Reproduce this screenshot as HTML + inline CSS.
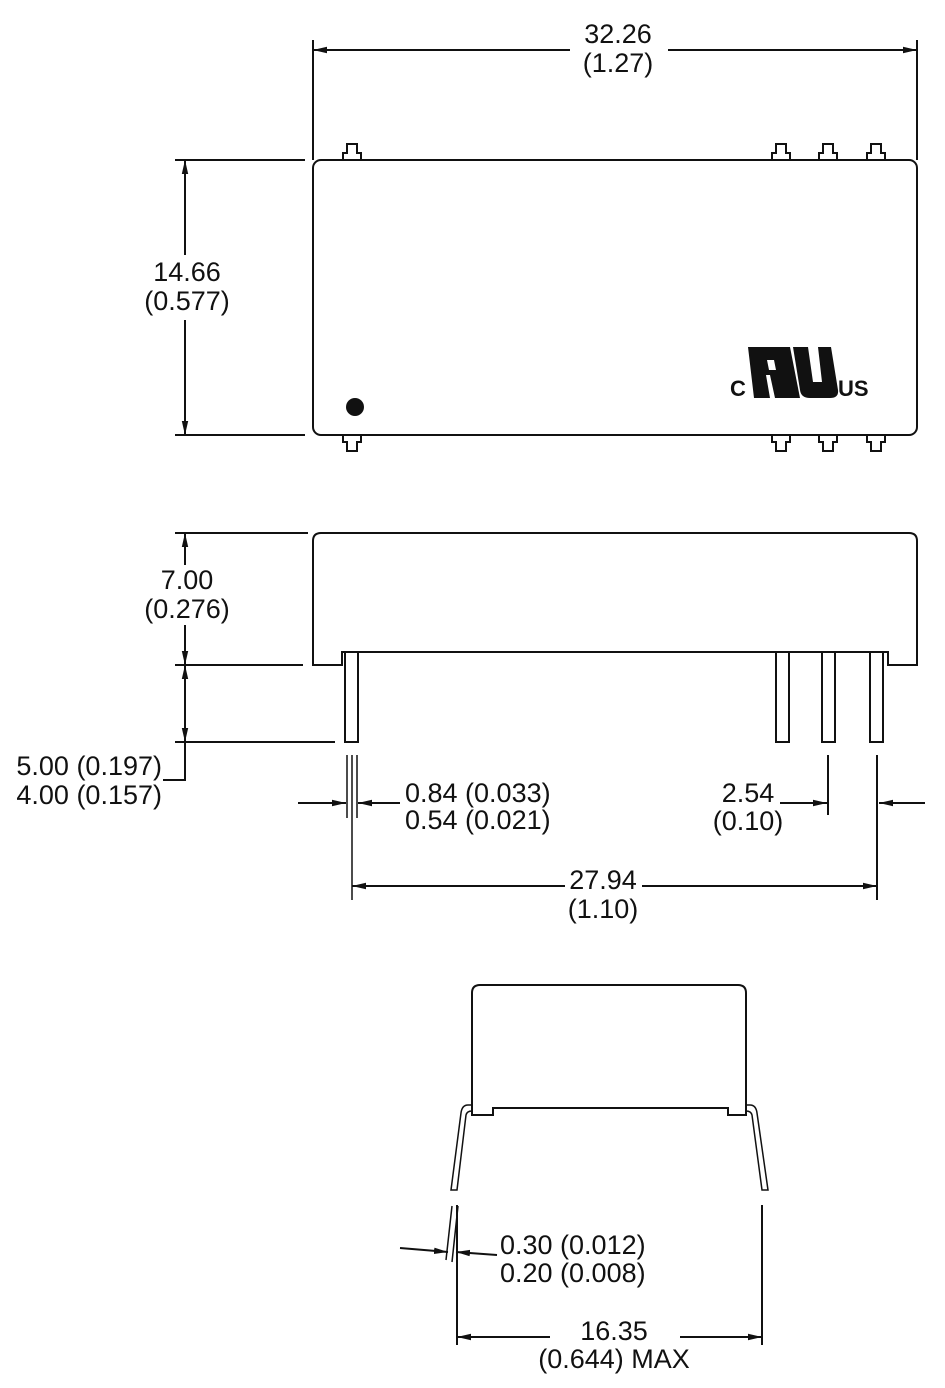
<!DOCTYPE html>
<html><head><meta charset="utf-8"><style>
html,body{margin:0;padding:0;background:#fff;}
svg{display:block}
text{font-family:"Liberation Sans Narrow","Liberation Sans",sans-serif;font-size:27px;fill:#111;}
</style></head><body>
<svg width="945" height="1388" viewBox="0 0 945 1388" xmlns="http://www.w3.org/2000/svg">
<defs>
<marker id="a" viewBox="0 0 10 10" refX="10" refY="5" markerWidth="14" markerHeight="8" markerUnits="userSpaceOnUse" orient="auto-start-reverse" preserveAspectRatio="none"><path d="M0,1 L10,5 L0,9 z" fill="#111"/></marker>
</defs>
<g stroke="#111" stroke-width="2" fill="none">
<!-- TOP VIEW -->
<rect x="313" y="160" width="604" height="275" rx="8"/>
<g id="pt">
<path d="M343,160 v-7 h4 v-9 h10 v9 h4 v7"/>
</g>
<use href="#pt" x="429"/><use href="#pt" x="476"/><use href="#pt" x="524"/>
<g id="pb"><path d="M343,435 v7 h4 v9 h10 v-9 h4 v-7"/></g>
<use href="#pb" x="429"/><use href="#pb" x="476"/><use href="#pb" x="524"/>
<!-- 32.26 -->
<line x1="313" y1="40" x2="313" y2="160"/><line x1="917" y1="40" x2="917" y2="160"/>
<line x1="313" y1="50" x2="570" y2="50" marker-start="url(#a)"/>
<line x1="668" y1="50" x2="917" y2="50" marker-end="url(#a)"/>
<!-- 14.66 -->
<line x1="175" y1="160" x2="305" y2="160"/><line x1="175" y1="435" x2="305" y2="435"/>
<line x1="185" y1="160" x2="185" y2="255" marker-start="url(#a)"/>
<line x1="185" y1="320" x2="185" y2="435" marker-end="url(#a)"/>

<!-- SIDE VIEW -->
<path d="M313,665 V541 q0,-8 8,-8 H909 q8,0 8,8 V665 H888 V652 H342 V665 Z"/>
<rect x="345" y="652" width="13" height="90"/>
<rect x="776" y="652" width="13" height="90"/>
<rect x="822" y="652" width="13" height="90"/>
<rect x="870" y="652" width="13" height="90"/>
<!-- 7.00 -->
<line x1="175" y1="533" x2="308" y2="533"/><line x1="175" y1="665" x2="303" y2="665"/>
<line x1="185" y1="533" x2="185" y2="565" marker-start="url(#a)"/>
<line x1="185" y1="625" x2="185" y2="665" marker-end="url(#a)"/>
<!-- 5.00 -->
<line x1="175" y1="742" x2="335" y2="742"/>
<line x1="185" y1="665" x2="185" y2="742" marker-start="url(#a)" marker-end="url(#a)"/>
<polyline points="185,742 185,780 163,780"/>
<!-- pin width -->
<line x1="347" y1="755" x2="347" y2="818" stroke-width="1.5"/>
<line x1="352" y1="755" x2="352" y2="900" stroke-width="1.5"/>
<line x1="357" y1="755" x2="357" y2="818" stroke-width="1.5"/>
<line x1="298" y1="803" x2="346" y2="803" marker-end="url(#a)"/>
<line x1="400" y1="803" x2="358" y2="803" marker-end="url(#a)"/>
<!-- 2.54 -->
<line x1="828" y1="755" x2="828" y2="815"/>
<line x1="877" y1="755" x2="877" y2="900"/>
<line x1="780" y1="803" x2="827" y2="803" marker-end="url(#a)"/>
<line x1="925" y1="803" x2="879" y2="803" marker-end="url(#a)"/>
<!-- 27.94 -->
<line x1="352" y1="886" x2="565" y2="886" marker-start="url(#a)"/>
<line x1="642" y1="886" x2="877" y2="886" marker-end="url(#a)"/>

<!-- END VIEW -->
<path d="M472,1115 V993 q0,-8 8,-8 H738 q8,0 8,8 V1115 H728 V1108 H493 V1115 Z"/>
<path d="M472,1105 h-4 q-6,0 -7,8 L451,1190 h6 L466,1115 q1,-4 6,-4" stroke-width="1.5"/>
<path d="M746,1105 h4 q6,0 7,8 L768,1190 h-6 L752,1115 q-1,-4 -6,-4" stroke-width="1.5"/>
<path d="M452,1206 L446,1260 M458,1206 L452,1262" stroke-width="1.5"/>
<line x1="457" y1="1205" x2="457" y2="1345"/>
<line x1="762" y1="1205" x2="762" y2="1345"/>
<line x1="400" y1="1248" x2="448" y2="1252" marker-end="url(#a)"/>
<line x1="497" y1="1255" x2="456" y2="1252" marker-end="url(#a)"/>
<line x1="457" y1="1337" x2="550" y2="1337" marker-start="url(#a)"/>
<line x1="680" y1="1337" x2="762" y2="1337" marker-end="url(#a)"/>
</g>
<circle cx="355" cy="407" r="9" fill="#111"/>
<!-- UL logo -->
<g fill="#111">
<text x="730" y="396" style="font-size:22px;font-weight:bold;font-family:'Liberation Sans',sans-serif">C</text>
<path d="M748,347 H790 L800,398 H775 L770,375 H766 L770,398 H754 Z M767,360 L769,370 H776 L774,360 Z"/>
<path d="M793,347 H808 L813,382 H822 L818,347 H831 L838,390 q1,8 -8,8 H810 q-9,0 -10,-8 Z"/>
<text x="838" y="396" style="font-size:22px;font-weight:bold;font-family:'Liberation Sans',sans-serif">US</text>
</g>
<!-- Labels -->
<g text-anchor="middle">
<text x="618" y="43">32.26</text><text x="618" y="72">(1.27)</text>
<text x="187" y="281">14.66</text><text x="187" y="310">(0.577)</text>
<text x="187" y="589">7.00</text><text x="187" y="618">(0.276)</text>
<text x="748" y="802">2.54</text><text x="748" y="830">(0.10)</text>
<text x="603" y="889">27.94</text><text x="603" y="918">(1.10)</text>
<text x="614" y="1340">16.35</text><text x="614" y="1368">(0.644) MAX</text>
</g>
<g text-anchor="end">
<text x="162" y="775">5.00 (0.197)</text><text x="162" y="804">4.00 (0.157)</text>
</g>
<text x="405" y="802">0.84 (0.033)</text><text x="405" y="829">0.54 (0.021)</text>
<text x="500" y="1254">0.30 (0.012)</text><text x="500" y="1282">0.20 (0.008)</text>
</svg>
</body></html>
